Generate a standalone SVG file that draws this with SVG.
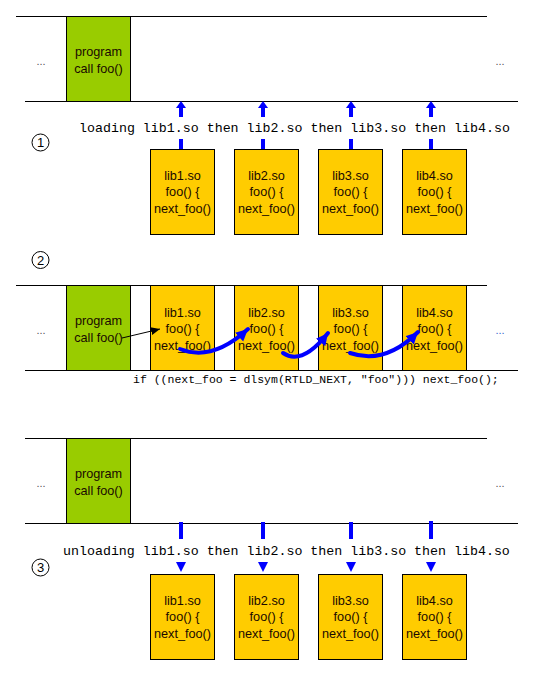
<svg xmlns="http://www.w3.org/2000/svg" width="534" height="676" viewBox="0 0 534 676">
<defs>
<style>
.ln{stroke:#000;stroke-width:1;fill:none}
.prog{fill:#99cc00;stroke:#000;stroke-width:1}
.lib{fill:#ffcc00;stroke:#000;stroke-width:1}
.t{font-family:"Liberation Sans",Arial,sans-serif;font-size:12.7px;fill:#1a0a00;text-anchor:middle}
.mono{font-family:"Liberation Mono","Courier New",monospace;font-size:13.3px;fill:#000}
.dots{font-family:"Liberation Sans",Arial,sans-serif;font-size:11px;fill:#555;text-anchor:middle}
.num{font-family:"Liberation Sans",Arial,sans-serif;font-size:13px;fill:#000;text-anchor:middle}
.bar{stroke:#0000ff;stroke-width:4}
.tri{fill:#0000ff}
.blue{stroke:#0000ff;stroke-width:4;fill:none;stroke-linecap:round}
</style>
<marker id="bh" markerUnits="userSpaceOnUse" markerWidth="14" markerHeight="14" viewBox="0 0 14 14" refX="12" refY="7" orient="auto">
<path d="M0,1 L12,7 L0,13 z" fill="#0000ff"/>
</marker>
<marker id="kh" markerUnits="userSpaceOnUse" markerWidth="10" markerHeight="10" viewBox="0 0 10 10" refX="9" refY="5" orient="auto">
<path d="M0,1 L9,5 L0,9 z" fill="#000"/>
</marker>
</defs>

<!-- Section 1 -->
<g id="section1">
<line class="ln" x1="16" y1="16.5" x2="487" y2="16.5"/>
<line class="ln" x1="25" y1="101.5" x2="518" y2="101.5"/>
<text class="dots" x="41" y="65">...</text>
<text class="dots" x="500" y="65">...</text>
</g>
<g id="program1">
<rect class="prog" x="66.5" y="16.5" width="64" height="85"/>
<text class="t" x="98.5" y="55.5">program</text>
<text class="t" x="98.5" y="72.5">call foo()</text>
</g>
<g id="label1">
<text class="mono" x="79" y="131.5">loading lib1.so then lib2.so then lib3.so then lib4.so</text>
<circle cx="40.5" cy="142.5" r="8.5" fill="none" stroke="#000" stroke-width="1"/>
<text class="num" x="40.5" y="147">1</text>
</g>
<g id="lib1a"><rect class="lib" x="150.5" y="149.5" width="64" height="85"/><text class="t" x="182.5" y="179.5">lib1.so</text><text class="t" x="182.5" y="196">foo() {</text><text class="t" x="182.5" y="212.5">next_foo()</text></g>
<g id="lib2a"><rect class="lib" x="234.5" y="149.5" width="64" height="85"/><text class="t" x="266.5" y="179.5">lib2.so</text><text class="t" x="266.5" y="196">foo() {</text><text class="t" x="266.5" y="212.5">next_foo()</text></g>
<g id="lib3a"><rect class="lib" x="318.5" y="149.5" width="64" height="85"/><text class="t" x="350.5" y="179.5">lib3.so</text><text class="t" x="350.5" y="196">foo() {</text><text class="t" x="350.5" y="212.5">next_foo()</text></g>
<g id="lib4a"><rect class="lib" x="402.5" y="149.5" width="64" height="85"/><text class="t" x="434.5" y="179.5">lib4.so</text><text class="t" x="434.5" y="196">foo() {</text><text class="t" x="434.5" y="212.5">next_foo()</text></g>

<!-- Section 2 -->
<g id="section2">
<line class="ln" x1="16" y1="285.5" x2="487" y2="285.5"/>
<line class="ln" x1="25" y1="370.5" x2="518" y2="370.5"/>
<text class="dots" x="41" y="334">...</text>
<text class="dots" x="500" y="334" style="fill:#3366cc">...</text>
<circle cx="40.5" cy="260" r="8.5" fill="none" stroke="#000" stroke-width="1"/>
<text class="num" x="40.5" y="264.5">2</text>
<text class="mono" x="133" y="383" style="font-size:11.5px">if ((next_foo = dlsym(RTLD_NEXT, "foo"))) next_foo();</text>
</g>
<g id="program2">
<rect class="prog" x="66.5" y="285.5" width="64" height="85"/>
<text class="t" x="98.5" y="325">program</text>
<text class="t" x="98.5" y="342">call foo()</text>
</g>
<g id="lib1b"><rect class="lib" x="150.5" y="285.5" width="64" height="85"/><text class="t" x="182.5" y="316.5">lib1.so</text><text class="t" x="182.5" y="333">foo() {</text><text class="t" x="182.5" y="349.5">next_foo()</text></g>
<g id="lib2b"><rect class="lib" x="234.5" y="285.5" width="64" height="85"/><text class="t" x="266.5" y="316.5">lib2.so</text><text class="t" x="266.5" y="333">foo() {</text><text class="t" x="266.5" y="349.5">next_foo()</text></g>
<g id="lib3b"><rect class="lib" x="318.5" y="285.5" width="64" height="85"/><text class="t" x="350.5" y="316.5">lib3.so</text><text class="t" x="350.5" y="333">foo() {</text><text class="t" x="350.5" y="349.5">next_foo()</text></g>
<g id="lib4b"><rect class="lib" x="402.5" y="285.5" width="64" height="85"/><text class="t" x="434.5" y="316.5">lib4.so</text><text class="t" x="434.5" y="333">foo() {</text><text class="t" x="434.5" y="349.5">next_foo()</text></g>

<!-- Section 3 -->
<g id="section3">
<line class="ln" x1="25" y1="438.5" x2="487" y2="438.5"/>
<line class="ln" x1="25" y1="523.5" x2="518" y2="523.5"/>
<text class="dots" x="41" y="487">...</text>
<text class="dots" x="500" y="487">...</text>
<text class="mono" x="63" y="555">unloading lib1.so then lib2.so then lib3.so then lib4.so</text>
<circle cx="40.5" cy="567.5" r="8.5" fill="none" stroke="#000" stroke-width="1"/>
<text class="num" x="40.5" y="572">3</text>
</g>
<g id="program3">
<rect class="prog" x="66.5" y="438.5" width="64" height="85"/>
<text class="t" x="98.5" y="478">program</text>
<text class="t" x="98.5" y="495">call foo()</text>
</g>
<g id="lib1c"><rect class="lib" x="150.5" y="574.5" width="64" height="85"/><text class="t" x="182.5" y="604.5">lib1.so</text><text class="t" x="182.5" y="621">foo() {</text><text class="t" x="182.5" y="637.5">next_foo()</text></g>
<g id="lib2c"><rect class="lib" x="234.5" y="574.5" width="64" height="85"/><text class="t" x="266.5" y="604.5">lib2.so</text><text class="t" x="266.5" y="621">foo() {</text><text class="t" x="266.5" y="637.5">next_foo()</text></g>
<g id="lib3c"><rect class="lib" x="318.5" y="574.5" width="64" height="85"/><text class="t" x="350.5" y="604.5">lib3.so</text><text class="t" x="350.5" y="621">foo() {</text><text class="t" x="350.5" y="637.5">next_foo()</text></g>
<g id="lib4c"><rect class="lib" x="402.5" y="574.5" width="64" height="85"/><text class="t" x="434.5" y="604.5">lib4.so</text><text class="t" x="434.5" y="621">foo() {</text><text class="t" x="434.5" y="637.5">next_foo()</text></g>

<!-- Connectors -->
<g id="connectors">
<g>
<line class="bar" x1="181" y1="107" x2="181" y2="117"/><line class="bar" x1="181" y1="139" x2="181" y2="149"/><path class="tri" d="M176,108 L181,101 L186,108 z"/>
<line class="bar" x1="263" y1="107" x2="263" y2="117"/><line class="bar" x1="263" y1="139" x2="263" y2="149"/><path class="tri" d="M258,108 L263,101 L268,108 z"/>
<line class="bar" x1="351" y1="107" x2="351" y2="117"/><line class="bar" x1="351" y1="139" x2="351" y2="149"/><path class="tri" d="M346,108 L351,101 L356,108 z"/>
<line class="bar" x1="431" y1="107" x2="431" y2="117"/><line class="bar" x1="431" y1="139" x2="431" y2="149"/><path class="tri" d="M426,108 L431,101 L436,108 z"/>
</g>
<line x1="122" y1="338" x2="160" y2="329" stroke="#000" stroke-width="1" marker-end="url(#kh)"/>
<path class="blue" d="M180,349 Q212,362 248,329" marker-end="url(#bh)"/>
<path class="blue" d="M283,353 Q302,366 328,333" marker-end="url(#bh)"/>
<path class="blue" d="M350,353 Q385,365 418,332" marker-end="url(#bh)"/>
<g>
<line class="bar" x1="181" y1="522" x2="181" y2="539"/><path class="tri" d="M176,562 L181,572 L186,562 z"/>
<line class="bar" x1="263" y1="522" x2="263" y2="539"/><path class="tri" d="M258,562 L263,572 L268,562 z"/>
<line class="bar" x1="351" y1="522" x2="351" y2="539"/><path class="tri" d="M346,562 L351,572 L356,562 z"/>
<line class="bar" x1="431" y1="521" x2="431" y2="539"/><path class="tri" d="M426,562 L431,572 L436,562 z"/>
</g>
</g>
</svg>
